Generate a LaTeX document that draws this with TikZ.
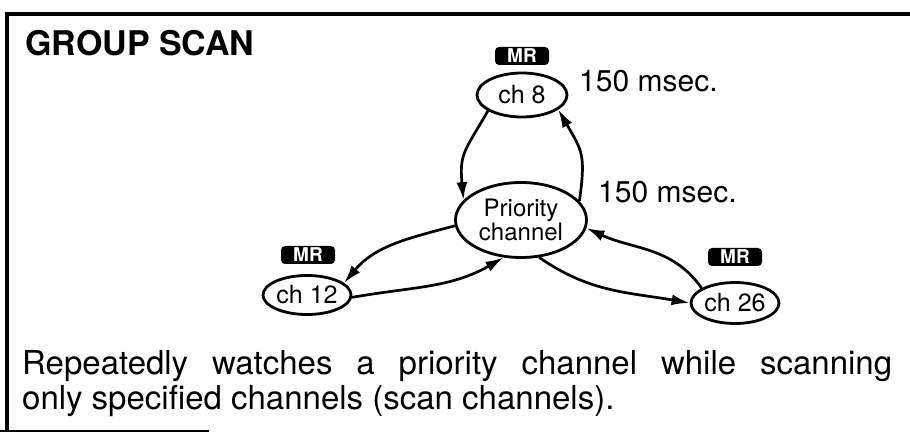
\documentclass[tikz,border=0pt]{standalone}
\usepackage{fontspec}
\setmainfont{TeX Gyre Heros}
\usetikzlibrary{shapes.geometric,arrows.meta}

\begin{document}
\begin{tikzpicture}[x=1pt,y=1pt,
    chan/.style={draw,ellipse,line width=2.8pt,inner sep=0pt,minimum width=88pt,minimum height=39pt,font=\fontsize{25}{28}\selectfont},
    mr/.style={fill=black,text=white,rounded corners=4pt,inner sep=0pt,minimum width=54pt,minimum height=18pt,font=\bfseries\fontsize{19}{19}\selectfont},
    fleche/.style={line width=2.7pt,-{Latex[length=18pt,width=11pt]}},
    msec/.style={anchor=base west,inner sep=0pt,font=\fontsize{30}{32}\selectfont}]
    \useasboundingbox (0,0) rectangle (910,434);
    % cadre
    \draw[line width=3.2pt] (910,420) -- (7,420) -- (7,3);
    \draw[line width=1.5pt] (0,3) -- (209,3);
    \node[anchor=base west,inner sep=0pt,font=\bfseries\fontsize{34}{38}\selectfont] (T) at (25,378){GROUP SCAN};
    % canaux
    \node[chan,minimum width=131pt,minimum height=75pt,align=center,font=\fontsize{24}{24}\selectfont] (P) at (521,214){Priority\\channel};
    \node[chan,minimum width=90pt,minimum height=44pt] (C8) at (522,339){ch 8};
    \node[chan] (C12) at (307,139){ch 12};
    \node[chan,minimum height=41pt] (C26) at (735,131){ch 26};
    \node[mr] (M8) at (522,378){MR};
    \node[mr] (M12) at (308,179){MR};
    \node[mr] (M26) at (735,177){MR};
    \node[msec] (L1) at (579,342){150 msec.};
    \node[msec] (L2) at (598,231){150 msec.};
    % fleches
    \draw[fleche] (C8.205) to[out=240,in=95,looseness=1.3] (P.161);
    \draw[fleche] (P.18) to[out=82,in=-60,looseness=1.3] (C8.338);
    \draw[fleche] (P.185) to[out=195,in=50] (C12.18);
    \draw[fleche] (C12.357) to[out=10,in=210] (P.245);
    \draw[fleche] (P.296) to[out=-35,in=170] (C26.180);
    \draw[fleche] (C26.156) to[out=125,in=-25] (P.353);
    \node[anchor=base west,inner sep=0pt,text width=870pt,align=justify,font=\fontsize{33}{35}\selectfont] (D) at (22,60){Repeatedly watches a priority channel while scanning\linebreak only specified channels (scan channels).};
\end{tikzpicture}
\end{document}
